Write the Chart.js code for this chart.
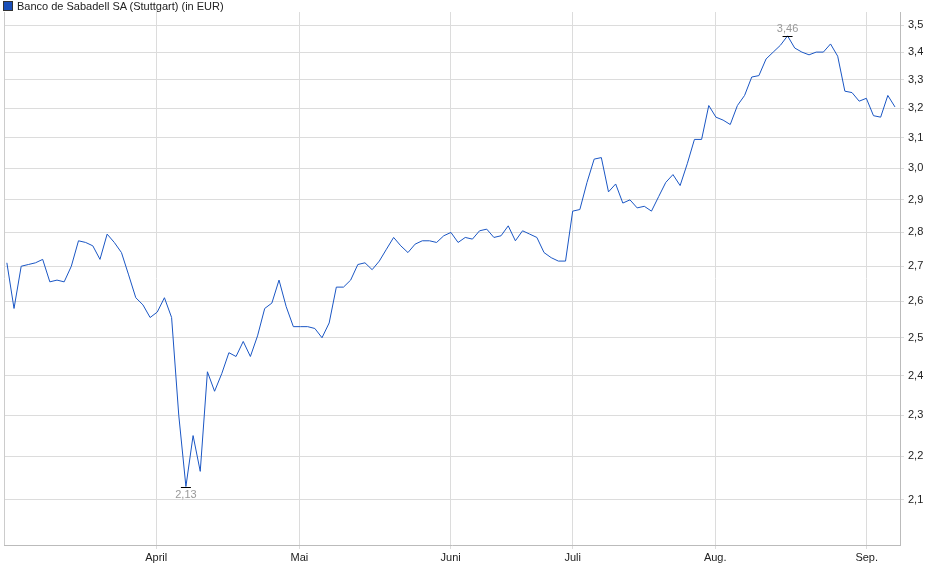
<!DOCTYPE html>
<html><head><meta charset="utf-8">
<script src="https://cdn.jsdelivr.net/npm/chart.js@4/dist/chart.umd.min.js"></script>
<style>
html,body{margin:0;padding:0;background:#fff;}
#wrap{position:relative;width:940px;height:579px;}
#legend{position:absolute;left:3px;top:0px;font:11px "Liberation Sans",Arial,sans-serif;color:#222;display:flex;align-items:center;}
#legend span.box{display:inline-block;width:8px;height:8px;background:#1a4fb8;border:1px solid #333;margin-right:4px;}
</style></head><body>
<div id="wrap"><canvas id="c" width="940" height="579"></canvas>
<div id="legend"><span class="box"></span><span>Banco de Sabadell SA (Stuttgart) (in EUR)</span></div></div>
<script>
const prices = [2.71,2.58,2.70,2.705,2.71,2.72,2.655,2.66,2.655,2.70,2.775,2.77,2.76,2.72,2.795,2.77,2.74,2.675,2.61,2.59,2.555,2.57,2.61,2.555,2.30,2.13,2.25,2.165,2.41,2.36,2.405,2.46,2.45,2.49,2.45,2.505,2.58,2.595,2.66,2.585,2.53,2.53,2.53,
2.525,2.50,2.54,2.64,2.64,2.66,2.705,2.71,2.69,2.715,2.75,2.785,2.76,2.74,2.765,2.775,2.775,2.77,2.79,2.80,2.77,2.785,2.78,2.805,2.81,2.785,2.79,2.82,2.775,2.805,2.795,2.785,2.74,2.725,2.715,2.715,2.865,2.87,2.955,
3.03,3.035,2.925,2.95,2.89,2.90,2.875,2.88,2.865,2.91,2.955,2.98,2.945,3.015,3.095,3.095,3.21,3.17,3.16,3.145,3.21,3.245,3.31,3.315,3.375,3.40,3.425,3.46,3.415,3.40,3.39,3.40,3.40,3.43,3.385,3.26,3.255,3.225,3.235,3.175,3.17,3.245,3.205];
const monthLabels = ["April","Mai","Juni","Juli","Aug.","Sep."];
const monthPos = [20.85,40.85,61.97,79.0,98.9,120.05];
const yTicks = [2.1,2.2,2.3,2.4,2.5,2.6,2.7,2.8,2.9,3.0,3.1,3.2,3.3,3.4,3.5];

const pts = prices.map((v,i)=>({x:i,y:v}));
const font = {family:'"Liberation Sans", Arial, sans-serif', size:11};
const extremes = {
  id:'extremes',
  afterDatasetsDraw(chart){
    const {ctx,scales:{x,y}} = chart;
    let mi=0,ma=0;
    prices.forEach((v,i)=>{if(v<prices[mi])mi=i;if(v>prices[ma])ma=i;});
    ctx.save();
    ctx.strokeStyle='#000';ctx.lineWidth=1;ctx.fillStyle='#999';
    ctx.font='11px "Liberation Sans", Arial, sans-serif';ctx.textAlign='center';
    [[mi,1],[ma,-1]].forEach(([i,d])=>{
      const px=x.getPixelForValue(i), py=Math.round(y.getPixelForValue(prices[i]))+0.5;
      ctx.beginPath();ctx.moveTo(px-5,py);ctx.lineTo(px+5,py);ctx.stroke();
      ctx.textBaseline = d>0?'top':'bottom';
      ctx.fillText(prices[i].toFixed(2).replace('.',','),px,py+d*2);
    });
    const a=chart.chartArea;
    ctx.strokeStyle='#ccc';
    ctx.beginPath();ctx.moveTo(a.left+0.5,a.top);ctx.lineTo(a.left+0.5,a.bottom);ctx.stroke();
    ctx.restore();
  }
};
new Chart(document.getElementById('c'),{
  type:'line',
  data:{datasets:[{data:pts,borderColor:'#1a56c4',borderWidth:1,pointRadius:0,tension:0,fill:false}]},
  options:{
    responsive:false,animation:false,
    layout:{padding:{left:4,top:12,right:0,bottom:0}},
    plugins:{legend:{display:false},tooltip:{enabled:false}},
    scales:{
      x:{type:'linear',min:-0.4,max:124.7,
        afterBuildTicks(s){s.ticks=monthPos.map(v=>({value:v}));},
        afterFit(s){s.height=34;},
        ticks:{font,color:'#222',maxRotation:0,autoSkip:false,padding:2,
          callback(v,i){return monthLabels[i];}},
        grid:{color:'#dcdcdc',drawTicks:true,tickLength:4},border:{color:'#bbb'}},
      y:{type:'logarithmic',position:'right',min:2.0,max:3.55,
        afterBuildTicks(s){s.ticks=yTicks.map(v=>({value:v}));},
        afterFit(s){s.width=40;},
        ticks:{font,color:'#222',padding:4,callback(v){return Number(v).toFixed(1).replace('.',',');}},
        grid:{color:'#dcdcdc',tickLength:4},border:{color:'#bbb'}}
    }
  },
  plugins:[extremes]
});
</script></body></html>
